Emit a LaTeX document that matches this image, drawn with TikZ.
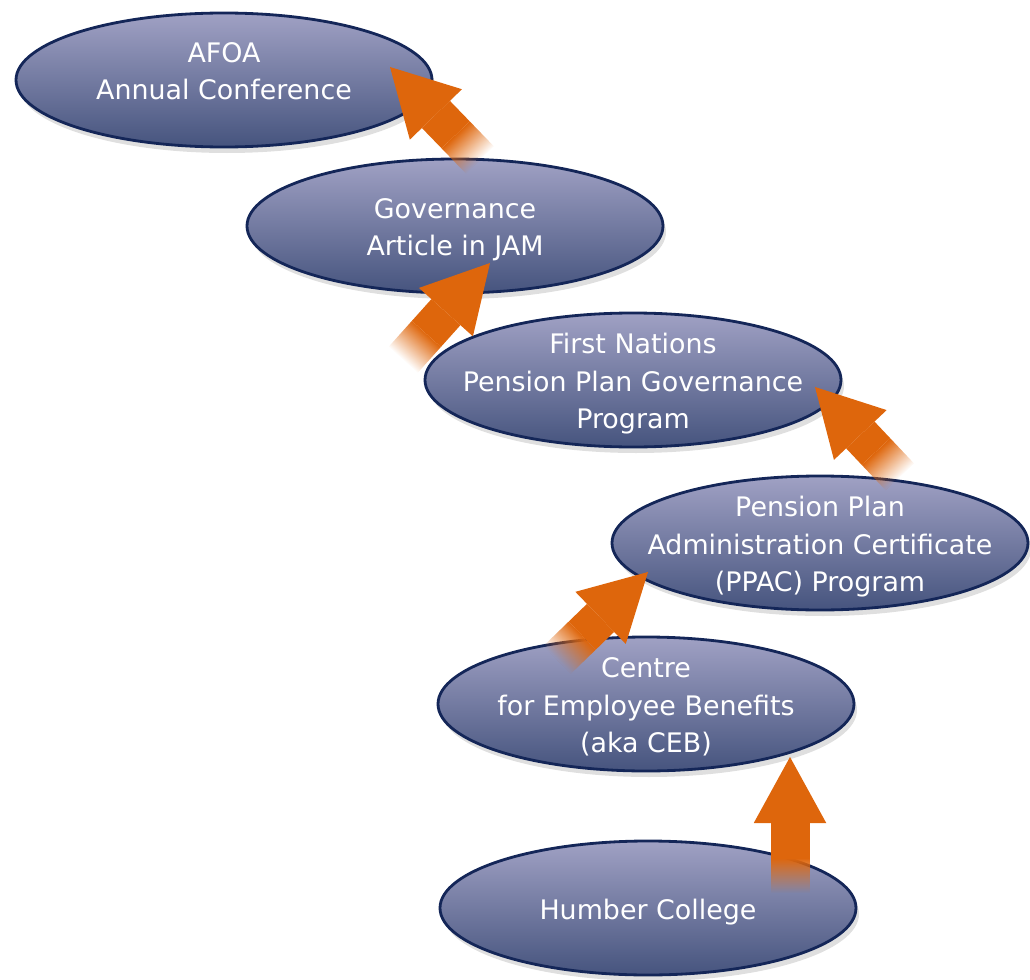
\documentclass[tikz,border=0pt]{standalone}
\usepackage{fontspec}
\setmainfont{DejaVu Sans}
\usetikzlibrary{shapes.geometric, arrows.meta, shadows, fadings}

\definecolor{ellTop}{RGB}{160,161,196}
\definecolor{ellBot}{RGB}{70,84,126}
\definecolor{ellLine}{RGB}{20,38,88}
\definecolor{arrOrange}{RGB}{222,102,12}

\newcommand{\elltxt}[2][-0.2cm]{\smash{\makebox[0pt]{\raisebox{#1}{\begin{tabular}{@{}c@{}}#2\end{tabular}}}}}

\begin{tikzfadingfrompicture}[name=tailfade]
  \fill[transparent!100] (-5,-3) rectangle (0,3);
  \shade[left color=transparent!100, right color=transparent!0] (0,-3) rectangle (0.7,3);
  \fill[transparent!0] (0.7,-3) rectangle (5,3);
\end{tikzfadingfrompicture}

\begin{document}
\begin{tikzpicture}[
  ell/.style={ellipse, draw=ellLine, line width=1.6pt, top color=ellTop, bottom color=ellBot, minimum width=8.32cm, minimum height=2.68cm, inner sep=0pt, text=white, font=\fontsize{15.3}{21.3}\selectfont, drop shadow={shadow xshift=0.06cm, shadow yshift=-0.12cm, opacity=0.25}},
  arr/.style={-{Triangle[length=1.32cm, width=1.45cm, line width=0pt]}, line width=0.78cm, draw=arrOrange, path fading=tailfade, fit fading=false},
]
\useasboundingbox (0,0) rectangle (20.6,-19.6);
% Ellipses
\node[ell] (afoa) at (4.48,-1.6) {\elltxt[0cm]{AFOA\\Annual Conference}};
\node[ell] (gov) at (9.1,-4.52) {\elltxt{Governance\\Article in JAM}};
\node[ell] (fn) at (12.66,-7.6) {\elltxt{First Nations\\Pension Plan Governance\\Program}};
\node[ell] (ppac) at (16.4,-10.86) {\elltxt{Pension Plan\\Administration Certificate\\(PPAC) Program}};
\node[ell] (ceb) at (12.92,-14.08) {\elltxt{Centre\\for Employee Benefits\\(aka CEB)}};
\node[ell] (hum) at (12.96,-18.16) {\elltxt{Humber College}};

% Arrow ends
\coordinate (t1) at ([shift={(0.5,1.32)}]gov.center);
\coordinate (h1) at ([shift={(3.32,0.26)}]afoa.center);
\coordinate (t2) at ([shift={(-4.6,0.4)}]fn.center);
\coordinate (h2) at ([shift={(0.7,-0.74)}]gov.center);
\coordinate (t3) at ([shift={(1.6,1.32)}]ppac.center);
\coordinate (h3) at ([shift={(3.64,-0.14)}]fn.center);
\coordinate (t4) at ([shift={(-1.78,0.88)}]ceb.center);
\coordinate (h4) at ([shift={(-3.44,-0.58)}]ppac.center);
\coordinate (t5) at ([shift={(2.84,0.3)}]hum.center);
\coordinate (h5) at ([shift={(2.88,-1.06)}]ceb.center);

% Arrows
\draw[arr, fading transform={shift={(t1)}, rotate=134}] (t1) -- (h1);
\draw[arr, fading transform={shift={(t2)}, rotate=48}] (t2) -- (h2);
\draw[arr, fading transform={shift={(t3)}, rotate=133}] (t3) -- (h3);
\draw[arr, fading transform={shift={(t4)}, rotate=44}] (t4) -- (h4);
\draw[arr, fading transform={shift={(t5)}, rotate=90}] (t5) -- (h5);
\end{tikzpicture}
\end{document}
